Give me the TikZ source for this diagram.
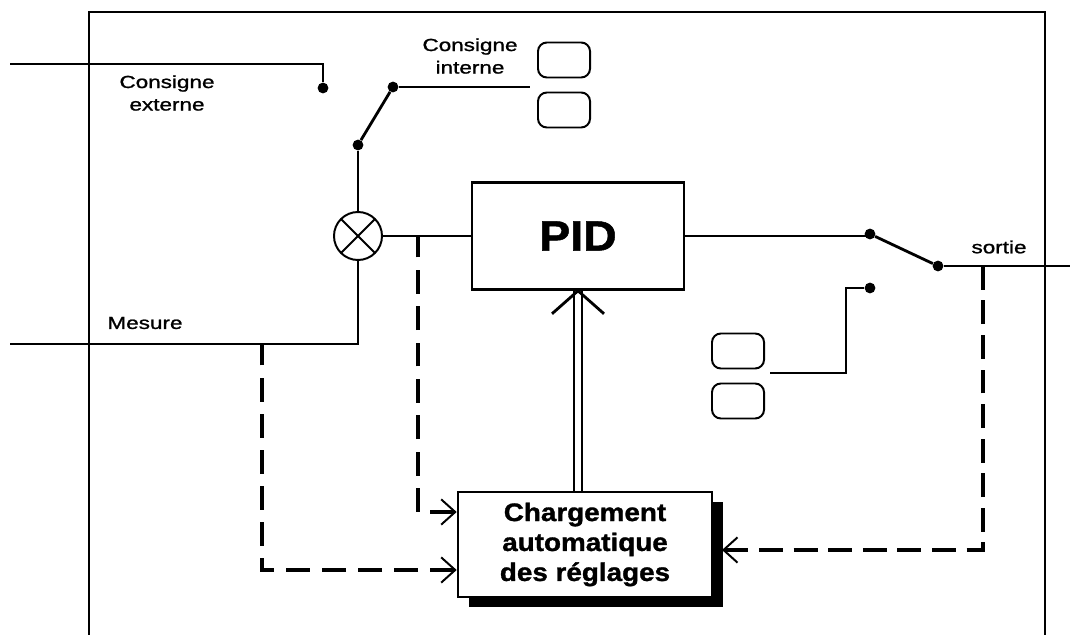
\documentclass[tikz,border=0pt]{standalone}
\usepackage{fontspec}
\setmainfont{Liberation Sans}
\newfontfamily\etiqfont[FakeStretch=1.28, FakeBold=1.2]{Liberation Sans}
\newfontfamily\blocfont[FakeStretch=1.1, BoldFeatures={FakeBold=1.2}]{Liberation Sans}
\usetikzlibrary{arrows.meta,positioning,calc,shadows}
\tikzset{
	bloc/.style={
		rectangle,
		draw=black,
		line width=1.8pt,
		fill=white,
		align=center,
		inner sep=0pt,
	},
	touche/.style={
		rectangle,
		rounded corners=0.22cm,
		draw=black,
		line width=1.4pt,
		minimum width=1.3cm,
		minimum height=0.875cm,
	},
	contact/.style={
		circle,
		fill=black,
		inner sep=0pt,
		minimum size=0.27cm,
	},
	sommateur/.style={
		circle,
		draw=black,
		line width=1.4pt,
		minimum size=1.2cm,
		path picture={
			\draw[line width=1.4pt] (path picture bounding box.south west) -- (path picture bounding box.north east);
			\draw[line width=1.4pt] (path picture bounding box.north west) -- (path picture bounding box.south east);
		},
	},
	etiq/.style={font=\etiqfont\fontsize{12.5pt}{16pt}\selectfont, align=center, inner sep=0pt},
	signal/.style={line width=1.2pt},
	bras/.style={line width=2pt},
	cadre/.style={line width=1.5pt},
	mesure/.style={line width=2.4pt, dash pattern=on 17pt off #1},
	mesure/.default=8pt,
	fleche/.style={{Straight Barb[length=10pt,width=18pt,line width=1.4pt]}-},
}

\begin{document}
\begin{tikzpicture}[x=0.025cm,y=-0.025cm]
	\useasboundingbox (0,0) rectangle (1070,635);

	% cadre
	\draw[cadre] (89,635) -- (89,12) -- (1045,12) -- (1045,635);

	% consignes
	\coordinate (ext-in) at (10,64);
	\node [contact] (c-ext) at (323,88) {};
	\node [contact] (c-int) at (393,87) {};
	\node [contact] (c-com) at (358,145) {};
	\coordinate (int-out) at (530,87);
	\node [touche] (t1) at (564,60) {};
	\node [touche] (t2) at (564,110) {};
	\node [etiq] (l-ext) at (167,93) {Consigne\\externe};
	\node [etiq] (l-int) at (470,56) {Consigne\\interne};

	\draw[signal] (ext-in) -| (c-ext);
	\draw[signal] (c-int) -- (int-out);
	\draw[bras] (c-com) -- (c-int);

	% comparateur et PID
	\node [sommateur] (som) at (358,236) {};
	\node [bloc, minimum width=5.3cm, minimum height=2.675cm,
		font=\blocfont\bfseries\fontsize{30pt}{36pt}\selectfont] (pid) at (578,236) {PID};
	\coordinate (mes-in) at (10,344);
	\node [etiq] (l-mes) at (145,323) {Mesure};

	\draw[signal] (c-com) -- (som);
	\draw[signal] (mes-in) -| (som);
	\draw[signal] (som) -- (pid);

	% sortie
	\node [contact] (c-auto) at (870,234) {};
	\node [contact] (c-man) at (870,288) {};
	\node [contact] (c-sor) at (938,266) {};
	\coordinate (sor-out) at (1070,266);
	\coordinate (man-out) at (770,373);
	\node [touche] (t3) at (738,351) {};
	\node [touche] (t4) at (738,401) {};
	\node [etiq] (l-sor) at (999,247) {sortie};

	\draw[signal] (pid) -- (pid.east -| c-auto);
	\draw[bras] (c-auto) -- (c-sor);
	\draw[signal] (c-sor) -- (sor-out);
	\draw[signal] (c-man) -- (846,288) |- (man-out);

	% chargement automatique
	\node [bloc, minimum width=6.35cm, minimum height=2.625cm,
		drop shadow={shadow xshift=7.8pt, shadow yshift=-7pt, fill=black, opacity=1},
		font=\blocfont\bfseries\fontsize{18pt}{21.3pt}\selectfont] (charg) at (585,544.5)
		{Chargement\\automatique\\des réglages};

	\draw[line width=1.4pt, double, double distance=4.3pt] (pid.south |- charg.north) -- (pid.south);
	\draw[bras] ($(pid.south)+(-26,23)$) -- (pid.south) -- ($(pid.south)+(26,23)$);

	\coordinate (tap-e) at (418,236);
	\coordinate (tap-m) at (262,344);
	\coordinate (tap-s) at (983,266);
	\draw[mesure=8.86pt, fleche] (charg.west |- 0,512) -| (tap-e);
	\draw[mesure=8.65pt, fleche] (charg.west |- 0,570) -| (tap-m);
	\draw[mesure=7.6pt, fleche] (722,550) -| (tap-s);
\end{tikzpicture}
\end{document}
